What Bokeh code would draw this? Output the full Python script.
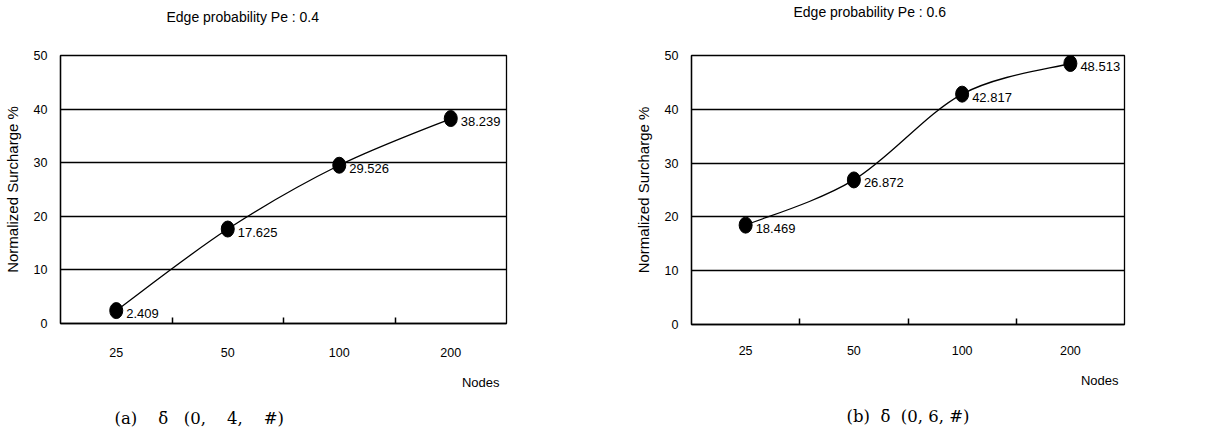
from bokeh.plotting import figure
from bokeh.layouts import row
from bokeh.models import Range1d, FixedTicker, ColumnDataSource, Title
from bokeh.embed import file_html
from bokeh.resources import INLINE
from bokeh.core.properties import value

nodes = ["25", "50", "100", "200"]
surcharge_a = [2.409, 17.625, 29.526, 38.239]
surcharge_b = [18.469, 26.872, 42.817, 48.513]
y_ticks = [0, 10, 20, 30, 40, 50]
titles = ["Edge probability Pe : 0.4", "Edge probability Pe : 0.6"]
NB = "\u00a0"
DELTA_BAR = "\u03b4\u0304"
captions = ["(a)" + NB * 4 + DELTA_BAR + NB * 3 + "(0," + NB * 4 + "4," + NB * 4 + "#)",
            "(b)" + NB * 2 + DELTA_BAR + NB * 2 + "(0," + NB + "6," + NB + "#)"]
x_title = "Nodes"
y_title = "Normalized Surcharge %"

SANS = "Liberation Sans"
SERIF = "DejaVu Serif"
H = 430


def bezier_segments(xs, ys):
    n = len(xs)
    P = list(zip(xs, ys))
    d = dict(x0=[], y0=[], x1=[], y1=[], cx0=[], cy0=[], cx1=[], cy1=[])
    for i in range(n - 1):
        p0 = P[max(i - 1, 0)]
        p1 = P[i]
        p2 = P[i + 1]
        p3 = P[min(i + 2, n - 1)]
        d["x0"].append(p1[0]); d["y0"].append(p1[1])
        d["x1"].append(p2[0]); d["y1"].append(p2[1])
        d["cx0"].append(p1[0] + (p2[0] - p0[0]) / 6.0)
        d["cy0"].append(p1[1] + (p2[1] - p0[1]) / 6.0)
        d["cx1"].append(p2[0] - (p3[0] - p1[0]) / 6.0)
        d["cy1"].append(p2[1] - (p3[1] - p1[1]) / 6.0)
    return d


def make_chart(vals, title, caption, W, L, T, fw, fh, title_off, title_lift,
               title_standoff, tick_standoff, nodes_off, nodes_standoff, cap_off):
    ncat = len(nodes)
    ymax = 50

    p = figure(frame_width=fw, frame_height=fh,
               x_range=Range1d(0, ncat), y_range=Range1d(0, ymax),
               output_backend="svg", toolbar_location=None,
               min_border_left=L, min_border_right=W - L - fw,
               min_border_top=T, min_border_bottom=H - T - fh)
    p.outline_line_color = "black"
    p.outline_line_width = 1.3
    p.background_fill_color = "white"
    p.border_fill_color = "white"

    xpos = [i + 0.5 for i in range(ncat)]
    p.xaxis.ticker = FixedTicker(ticks=xpos, minor_ticks=[i for i in range(1, ncat)])
    p.xaxis.major_label_overrides = {x: lab for x, lab in zip(xpos, nodes)}
    p.xaxis.major_tick_in = 0
    p.xaxis.major_tick_out = 0
    p.xaxis.minor_tick_in = 6
    p.xaxis.minor_tick_out = 0
    p.xaxis.minor_tick_line_color = "black"
    p.xaxis.minor_tick_line_width = 1.5
    p.xaxis.axis_line_color = "black"
    p.xaxis.axis_line_width = 1.3
    p.xaxis.major_label_standoff = tick_standoff
    p.xaxis.major_label_text_font = SANS
    p.xaxis.major_label_text_font_size = "12.5px"
    p.xaxis.major_label_text_color = "black"

    p.yaxis.ticker = FixedTicker(ticks=y_ticks, minor_ticks=[])
    p.yaxis.major_tick_in = 0
    p.yaxis.major_tick_out = 0
    p.yaxis.axis_line_color = "black"
    p.yaxis.axis_line_width = 1.3
    p.yaxis.major_label_standoff = 13
    p.yaxis.major_label_text_font = SANS
    p.yaxis.major_label_text_font_size = "12.5px"
    p.yaxis.major_label_text_color = "black"
    p.yaxis.axis_label = y_title
    p.yaxis.axis_label_text_font = SANS
    p.yaxis.axis_label_text_font_size = "15px"
    p.yaxis.axis_label_text_font_style = "normal"
    p.yaxis.axis_label_text_color = "black"
    p.yaxis.axis_label_standoff = 10

    p.xgrid.visible = False
    p.ygrid.ticker = FixedTicker(ticks=y_ticks[1:-1])
    p.ygrid.grid_line_color = "black"
    p.ygrid.grid_line_width = 1.5
    p.ygrid.grid_line_alpha = 1

    src = ColumnDataSource(dict(x=xpos, y=vals, lab=["%.3f" % v for v in vals]))
    seg = ColumnDataSource(bezier_segments(xpos, vals))
    p.bezier(x0="x0", y0="y0", x1="x1", y1="y1", cx0="cx0", cy0="cy0",
             cx1="cx1", cy1="cy1", source=seg, line_color="black", line_width=1.3)
    p.ellipse(x="x", y="y", width=13, height=16, width_units="screen",
              height_units="screen", source=src, fill_color="black", line_color="black")
    p.text(x="x", y="y", text="lab", source=src, x_offset=10, y_offset=3,
           text_baseline="middle", text_align="left",
           text_font=value(SANS), text_font_size="13px", text_color="black")

    # spacer between frame and title (keeps title high above the plot box)
    p.add_layout(Title(text=" ", text_font_size="1px", standoff=title_lift,
                       text_color="white"), "above")
    p.add_layout(Title(text=title, align="left", offset=title_off, standoff=title_standoff,
                       vertical_align="top", text_font=SANS, text_font_size="14px",
                       text_font_style="normal", text_color="black"), "above")
    p.add_layout(Title(text=x_title, align="right", offset=nodes_off,
                       standoff=nodes_standoff, vertical_align="top",
                       text_font=SANS, text_font_size="13px",
                       text_font_style="normal", text_color="black"), "below")
    p.add_layout(Title(text=caption, align="left", offset=cap_off, standoff=0,
                       vertical_align="bottom", text_font=SERIF, text_font_size="16.5px",
                       text_font_style="normal", text_color="black"), "below")
    return p


p1 = make_chart(surcharge_a, titles[0], captions[0], W=600, L=56, T=54, fw=446, fh=268,
                title_off=106, title_lift=21, title_standoff=10, tick_standoff=24,
                nodes_off=7, nodes_standoff=30, cap_off=54)
p2 = make_chart(surcharge_b, titles[1], captions[1], W=610, L=87, T=55, fw=433, fh=269,
                title_off=102, title_lift=30, title_standoff=2, tick_standoff=21,
                nodes_off=6, nodes_standoff=30, cap_off=155)

layout = row(p1, p2, spacing=0)
open("out.html", "w").write(file_html(layout, INLINE))
